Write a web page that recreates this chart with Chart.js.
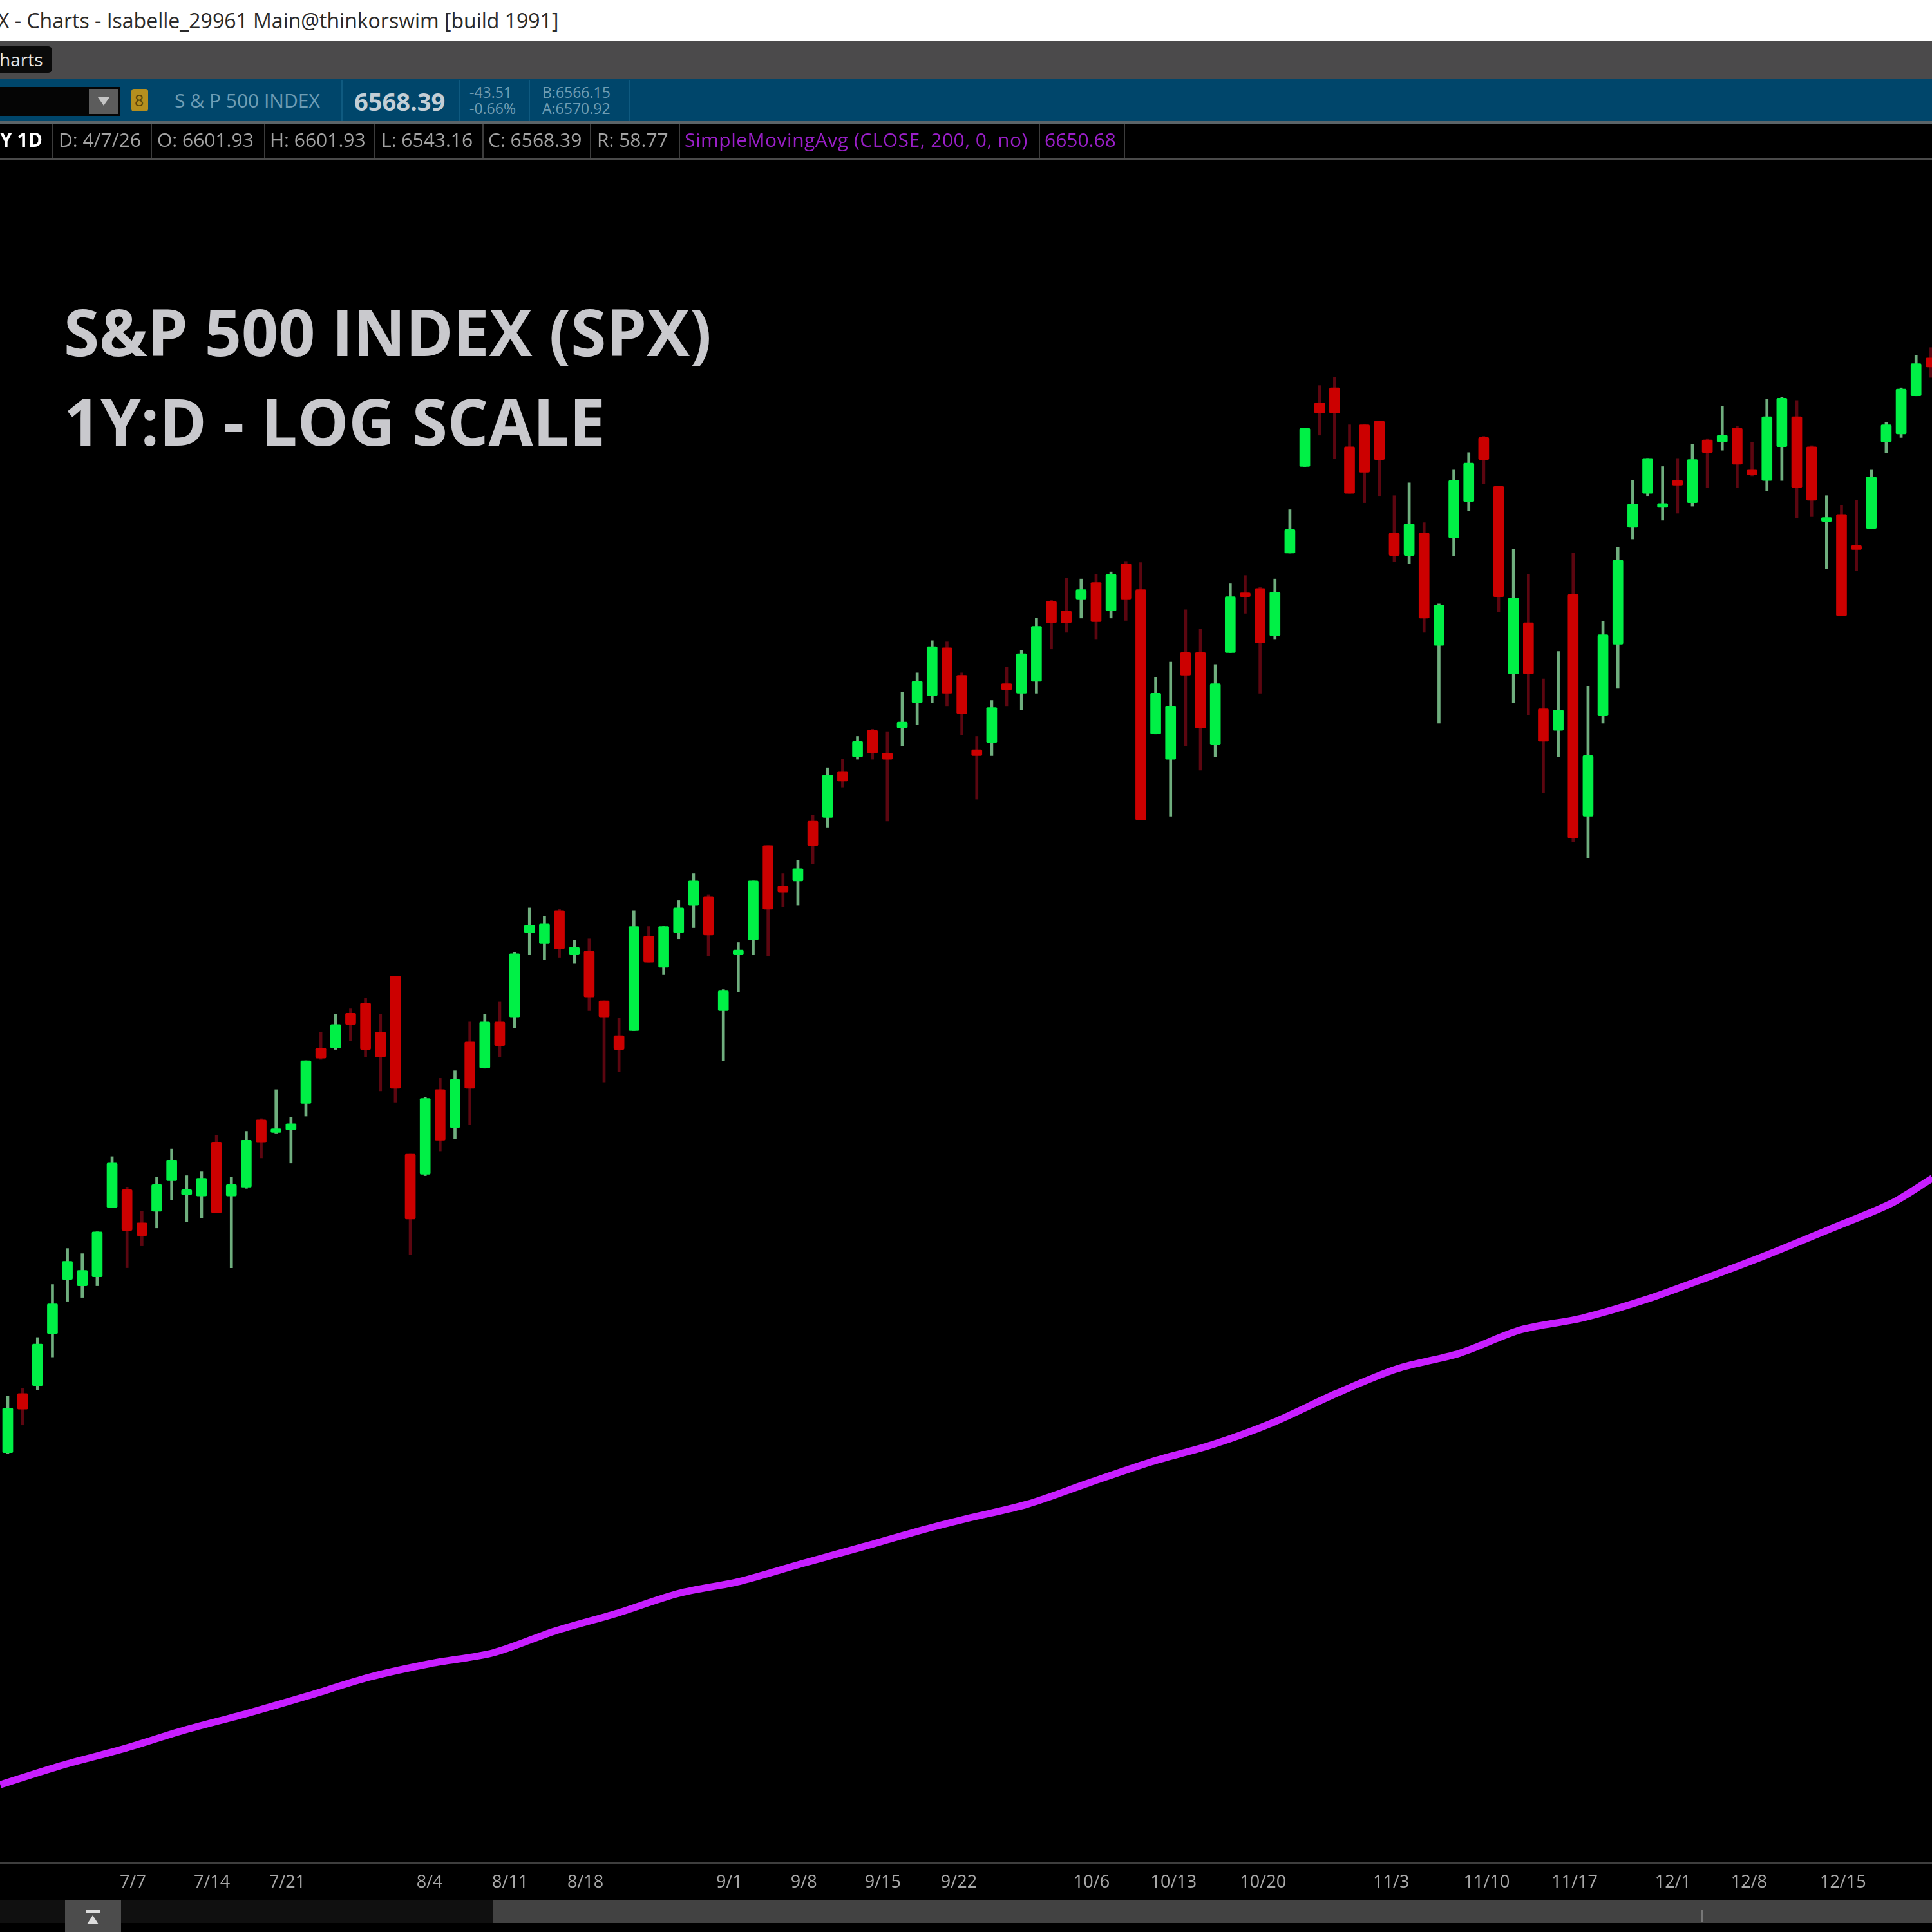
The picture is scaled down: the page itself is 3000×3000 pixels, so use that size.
<!DOCTYPE html>
<html lang="en">
<head>
<meta charset="UTF-8">
<title>S&amp;P 500 INDEX (SPX)</title>
<script src="https://cdn.jsdelivr.net/npm/chart.js"></script>
<style>
html, body { margin: 0; padding: 0; background: #000; }
#page { position: relative; width: 3000px; height: 3000px; overflow: hidden; background: #000; font-family: "Open Sans", sans-serif; }
#page canvas { position: absolute; left: 0; top: 0; }
.box { position: absolute; }
.txt { position: absolute; white-space: nowrap; line-height: 1; }
.cell { color: #a2a2a2; font-size: 30px; top: 202px; }
.sep { position: absolute; width: 2px; top: 192px; height: 53px; background: #3c3c3c; }
.sep2 { position: absolute; width: 2px; top: 124px; height: 64px; background: #0f5a80; }
.big { color: #c9c9cd; font-size: 100px; font-weight: 700; left: 99px; }
</style>
</head>
<body>
<div id="page">
    <canvas id="chart" width="3000" height="3000"></canvas>

    <div class="box" style="left:0;top:0;width:3000px;height:63px;background:#fff"></div>
    <div class="txt" style="left:-4px;top:16px;font-size:32px;color:#2a2a2a">X - Charts - Isabelle_29961 Main@thinkorswim [build 1991]</div>
    <div class="box" style="left:0;top:63px;width:3000px;height:59px;background:#4b4a4b"></div>
    <div class="box" style="left:0;top:72px;width:81px;height:41px;background:#0a0a0a;border-radius:0 6px 6px 0"></div>
    <div class="txt" style="left:-1px;top:78px;font-size:28px;color:#e6e6e6">harts</div>

    <div class="box" style="left:0;top:122px;width:3000px;height:66px;background:#00466b"></div>
    <div class="box" style="left:0;top:135px;width:186px;height:45px;background:#050505"></div>
    <div class="box" style="left:138px;top:138px;width:46px;height:39px;background:#5c5c5c"></div>
    <div class="box" style="left:152px;top:151px;width:0;height:0;border-left:9px solid transparent;border-right:9px solid transparent;border-top:13px solid #c4c4c4"></div>
    <div class="box" style="left:204px;top:138px;width:26px;height:35px;background:#b58f1e;border-radius:4px"></div>
    <div class="txt" style="left:209px;top:143px;font-size:25px;color:#5a4508">8</div>
    <div class="sep2" style="left:530px"></div>
    <div class="sep2" style="left:712px"></div>
    <div class="sep2" style="left:821px"></div>
    <div class="sep2" style="left:976px"></div>
    <div class="txt" style="left:271px;top:141px;font-size:30px;color:#6f9db4">S &amp; P 500 INDEX</div>
    <div class="txt" style="left:550px;top:138px;font-size:38px;font-weight:700;color:#c3ced6">6568.39</div>
    <div class="txt" style="left:729px;top:132px;font-size:23px;color:#6f9db4">-43.51</div>
    <div class="txt" style="left:729px;top:157px;font-size:23px;color:#6f9db4">-0.66%</div>
    <div class="txt" style="left:842px;top:132px;font-size:23px;color:#6f9db4">B:6566.15</div>
    <div class="txt" style="left:842px;top:157px;font-size:23px;color:#6f9db4">A:6570.92</div>

    <div class="box" style="left:0;top:188px;width:3000px;height:4px;background:#5b6468"></div>
    <div class="box" style="left:0;top:245px;width:3000px;height:4px;background:#4a4a4a"></div>
    <div class="txt cell" style="left:0;color:#fff;font-weight:700">Y 1D</div>
    <div class="sep" style="left:80px"></div>
    <div class="txt cell" style="left:91px">D: 4/7/26</div>
    <div class="sep" style="left:234px"></div>
    <div class="txt cell" style="left:244px">O: 6601.93</div>
    <div class="sep" style="left:410px"></div>
    <div class="txt cell" style="left:419px">H: 6601.93</div>
    <div class="sep" style="left:580px"></div>
    <div class="txt cell" style="left:592px">L: 6543.16</div>
    <div class="sep" style="left:749px"></div>
    <div class="txt cell" style="left:758px">C: 6568.39</div>
    <div class="sep" style="left:916px"></div>
    <div class="txt cell" style="left:927px">R: 58.77</div>
    <div class="sep" style="left:1054px"></div>
    <div class="txt cell" style="left:1063px;color:#9a1fc8;letter-spacing:0.5px">SimpleMovingAvg (CLOSE, 200, 0, no)</div>
    <div class="sep" style="left:1613px"></div>
    <div class="txt cell" style="left:1622px;color:#9a1fc8">6650.68</div>
    <div class="sep" style="left:1745px"></div>

    <div class="txt big" style="top:464px">S&amp;P 500 INDEX (SPX)</div>
    <div class="txt big" style="top:603px">1Y:D - LOG SCALE</div>

    <div class="box" style="left:0;top:2950px;width:3000px;height:36px;background:#101010"></div>
    <div class="box" style="left:765px;top:2950px;width:2235px;height:36px;background:#424242"></div>
    <div class="box" style="left:101px;top:2950px;width:87px;height:50px;background:#4c4c4c"></div>
    <div class="box" style="left:133px;top:2966px;width:22px;height:4px;background:#ddd"></div>
    <div class="box" style="left:135px;top:2974px;width:0;height:0;border-left:9px solid transparent;border-right:9px solid transparent;border-bottom:14px solid #ddd"></div>
    <div class="box" style="left:2641px;top:2966px;width:4px;height:18px;background:#777"></div>
</div>

<script>
// one trading day per entry
const barOpen = [6051,6096,6102,6142,6184,6179,6186,6240,6254,6228,6237,6261,6250,6249,6291,6249,6256,6309,6299,6301,
    6322,6366,6366,6394,6402,6379,6424,6282,6266,6333,6303,6371,6350,6387,6391,6459,6450,6477,6441,6444,
    6404,6376,6380,6456,6431,6459,6481,6488,6396,6441,6453,6530,6497,6501,6550,6553,6591,6603,6625,6606,
    6627,6648,6654,6694,6671,6609,6615,6664,6656,6666,6733,6725,6735,6749,6725,6765,6743,6622,6601,6690,
    6690,6613,6690,6740,6744,6704,6774,6848,6903,6916,6865,6884,6887,6791,6772,6791,6696,6787,6818,6873,
    6831,6672,6715,6643,6625,6739,6554,6637,6697,6796,6825,6813,6836,6817,6871,6869,6881,6845,6836,6865,
    6891,6865,6801,6807,6780,6795,6869,6876,6909,6942];
const barHigh = [6094,6100,6139,6180,6208,6204,6221,6280,6256,6237,6264,6286,6265,6268,6297,6264,6300,6310,6333,6311,
    6356,6379,6393,6398,6406,6393,6424,6282,6327,6342,6348,6387,6393,6403,6443,6479,6472,6478,6453,6454,
    6404,6390,6477,6464,6464,6485,6507,6490,6413,6451,6501,6530,6507,6518,6555,6594,6601,6620,6626,6624,
    6657,6673,6700,6699,6673,6620,6650,6678,6692,6719,6734,6753,6752,6756,6758,6767,6766,6669,6682,6726,
    6710,6680,6748,6755,6745,6752,6811,6881,6918,6925,6884,6884,6887,6823,6834,6800,6731,6845,6860,6874,
    6831,6777,6756,6668,6691,6774,6662,6716,6779,6836,6855,6848,6855,6867,6872,6900,6883,6869,6906,6908,
    6905,6866,6823,6815,6819,6845,6886,6916,6944,6951];
const barLow = [6050,6072,6099,6124,6167,6170,6179,6240,6193,6210,6224,6246,6229,6232,6236,6193,6255,6279,6298,6275,
    6312,6357,6365,6372,6359,6332,6323,6203,6265,6284,6294,6305,6350,6359,6382,6441,6437,6439,6434,6396,
    6339,6347,6380,6435,6425,6454,6463,6440,6356,6411,6441,6440,6480,6481,6515,6545,6578,6601,6601,6550,
    6612,6630,6648,6645,6621,6568,6604,6645,6642,6656,6693,6707,6719,6701,6719,6717,6551,6622,6554,6612,
    6592,6603,6690,6723,6656,6701,6774,6848,6875,6855,6825,6817,6823,6767,6765,6707,6631,6772,6810,6833,
    6724,6648,6638,6573,6603,6533,6520,6631,6660,6786,6823,6802,6808,6814,6830,6862,6830,6840,6827,6836,
    6804,6805,6761,6721,6759,6795,6860,6873,6909,6925];
const barClose = [6085,6084,6134,6165,6198,6191,6221,6275,6222,6218,6258,6277,6254,6263,6236,6258,6293,6291,6302,6306,
    6356,6358,6385,6385,6365,6359,6334,6231,6326,6293,6341,6334,6387,6368,6442,6465,6466,6446,6447,6407,
    6391,6365,6464,6435,6464,6479,6501,6457,6412,6445,6501,6478,6492,6511,6530,6588,6583,6616,6606,6601,
    6632,6666,6695,6656,6639,6604,6644,6659,6689,6712,6715,6715,6743,6716,6756,6735,6551,6656,6645,6671,
    6627,6664,6737,6737,6698,6741,6794,6881,6894,6894,6825,6843,6854,6772,6799,6719,6730,6836,6851,6854,
    6737,6736,6672,6616,6642,6536,6604,6705,6768,6816,6855,6816,6832,6854,6860,6875,6850,6841,6891,6907,
    6830,6819,6803,6721,6777,6839,6884,6915,6937,6934];

// 200 day average, read every few bars along the line
const smaBar = [-0.5,3.6,7.7,11.9,16,20.1,24.3,28.4,32.6,36.7,40.8,45,49.1,53.2,57.4,61.5,64.3,68.4,72.5,76.7,
    80.8,84.9,89.1,93.2,97.4,101.5,105.6,109.8,113.9,118,122.2,126.3,129.1];
const smaValue = [5804,5818,5830,5844,5856,5869,5883,5893,5901,5917,5930,5945,5954,5967,5980,5993,6001,6012,6028,6044,
    6057,6074,6096,6115,6127,6145,6154,6168,6185,6203,6223,6243,6263];

const tickBar = [8.4,13.7,18.75,28.3,33.7,38.75,48.4,53.4,58.7,63.8,72.7,78.2,84.2,92.8,99.2,105.1,111.7,116.8,123.1];
const tickLabels = ['7/7','7/14','7/21','8/4','8/11','8/18','9/1','9/8','9/15','9/22','10/6','10/13','10/20','11/3','11/10','11/17','12/1','12/8','12/15'];

const bodyColors = barOpen.map((o, i) => barClose[i] >= o ? '#00f046' : '#cc0000');
const wickColors = barOpen.map((o, i) => barClose[i] >= o ? '#6fae7e' : '#5c0610');

const ctx = document.getElementById('chart').getContext('2d');
new Chart(ctx, {
    type: 'bar',
    data: {
        datasets: [
            {
                type: 'line',
                label: 'SimpleMovingAvg',
                data: smaBar.map((b, i) => ({ x: b, y: smaValue[i] })),
                borderColor: '#c81eff',
                borderWidth: 11,
                pointRadius: 0,
                tension: 0.3,
                order: 0
            },
            {
                label: 'Body',
                data: barOpen.map((o, i) => ({ x: i, y: [o, barClose[i]] })),
                backgroundColor: bodyColors,
                barThickness: 16,
                minBarLength: 6,
                borderRadius: 2,
                borderSkipped: false,
                grouped: false,
                order: 1
            },
            {
                label: 'Wick',
                data: barLow.map((l, i) => ({ x: i, y: [l, barHigh[i]] })),
                backgroundColor: wickColors,
                barThickness: 4,
                grouped: false,
                order: 2
            }
        ]
    },
    options: {
        responsive: false,
        animation: false,
        layout: { padding: { top: 247, bottom: 27, left: 0, right: 0 } },
        plugins: { legend: { display: false }, tooltip: { enabled: false } },
        scales: {
            x: {
                type: 'linear',
                min: -0.518,
                max: 129.07,
                offset: false,
                grid: { display: false, offset: false },
                border: { color: '#3e3e3e', width: 3 },
                afterBuildTicks: axis => { axis.ticks = tickBar.map(v => ({ value: v })); },
                afterFit: axis => { axis.height = 80; },
                ticks: {
                    autoSkip: false,
                    maxRotation: 0,
                    padding: 6,
                    color: '#a8a8a8',
                    font: { family: '"Open Sans", sans-serif', size: 27 },
                    callback: (v, i) => tickLabels[i]
                }
            },
            y: {
                type: 'logarithmic',
                display: false,
                bounds: 'data',
                min: 5747.2,
                max: 7117.4,
                grid: { display: false }
            }
        }
    }
});
</script>
</body>
</html>
